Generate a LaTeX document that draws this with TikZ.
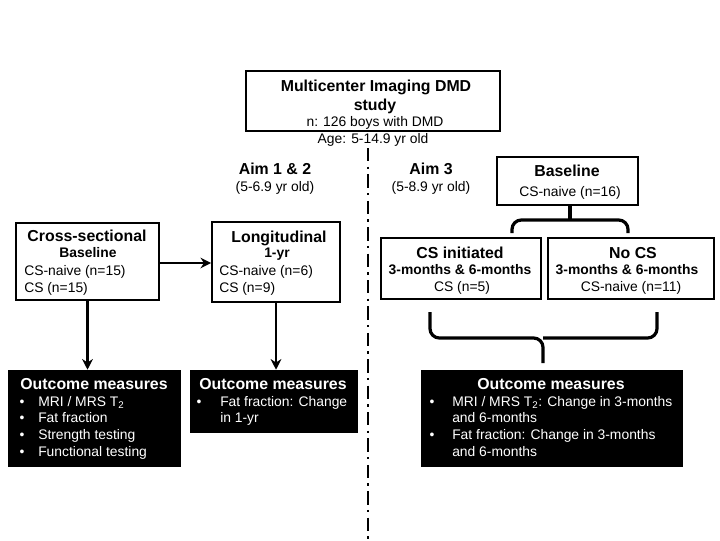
\documentclass[tikz,border=0pt]{standalone}
\usepackage{fontspec}
\setmainfont{Liberation Sans}
\usetikzlibrary{arrows.meta,fit}
\begin{document}
\begin{tikzpicture}[x=0.75pt,y=-0.75pt,
 box/.style={draw, line width=1.3pt, inner sep=0pt},
 dark/.style={fill=black, draw=black, inner sep=0pt},
 hd/.style={font=\fontsize{11.9}{13}\bfseries\selectfont, inner sep=0pt, text height=8.6pt, text depth=2.4pt},
 sb/.style={font=\fontsize{10.4}{12}\bfseries\selectfont, inner sep=0pt, text height=7.5pt, text depth=2.2pt},
 txt/.style={font=\fontsize{10.4}{12.5}\selectfont, inner sep=0pt, text height=7.5pt, text depth=2.2pt},
 wtxt/.style={txt, text=white},
 whd/.style={hd, text=white},
 arr/.style={line width=1.6pt, -{Stealth[length=8pt,width=8pt]}},
 brace/.style={line width=2.4pt, rounded corners=7pt},
 divider/.style={line width=2.2pt, dash pattern=on 10pt off 4pt on 1.8pt off 4pt}]
\useasboundingbox (0,0) rectangle (720,540);

% divider
\draw[divider] (368,148) -- (368,540);

% top box
\node[box, fit={(246,71) (500,131)}] (top) {};
\node[hd] (t1) at (376,87) {Multicenter Imaging DMD};
\node[hd] (t2) at (375,106) {study};
\node[txt] (t3) at (375,123) {n: 126 boys with DMD};
\node[txt] (t4) at (373,140) {Age: 5-14.9 yr old};

% aims
\node[hd] (a1) at (275,170) {Aim 1 \& 2};
\node[txt] (a1s) at (275,188) {(5-6.9 yr old)};
\node[hd] (a3) at (431,170) {Aim 3};
\node[txt] (a3s) at (431,188) {(5-8.9 yr old)};

% baseline (aim 3)
\node[box, fit={(497,157) (638,205)}] (base) {};
\node[hd] (b1) at (567,172) {Baseline};
\node[txt] (b2) at (570,193) {CS-naive (n=16)};

% CS initiated
\node[box, fit={(381,238) (541,299)}] (csi) {};
\node[hd] (c1) at (460,254) {CS initiated};
\node[sb] (c2) at (460,271) {3-months \& 6-months};
\node[txt] (c3) at (462,288) {CS (n=5)};

% No CS
\node[box, fit={(548,238) (714,299)}] (nocs) {};
\node[hd] (n1) at (633,254) {No CS};
\node[sb] (n2) at (627,271) {3-months \& 6-months};
\node[txt] (n3) at (631,288) {CS-naive (n=11)};

% cross-sectional
\node[box, fit={(16,223) (159,300)}] (cross) {};
\node[hd] (x1) at (87,237) {Cross-sectional};
\node[sb] (x2) at (88,254) {Baseline};
\node[txt, anchor=west] (x3) at (24,272) {CS-naive (n=15)};
\node[txt, anchor=west] (x4) at (24,289) {CS (n=15)};

% longitudinal
\node[box, fit={(212,222) (340,302)}] (long) {};
\node[hd] (l1) at (279,238) {Longitudinal};
\node[sb] (l2) at (277,254) {1-yr};
\node[txt, anchor=west] (l3) at (219,272) {CS-naive (n=6)};
\node[txt, anchor=west] (l4) at (219,289) {CS (n=9)};

% outcome boxes
\node[dark, fit={(8,370) (180,466)}] (o1) {};
\node[whd] (o1h) at (94,385) {Outcome measures};
\node[wtxt] (o1b1) at (22,403) {•};
\node[wtxt, anchor=west] (o1l1) at (38,403) {MRI / MRS T\textsubscript{2}};
\node[wtxt] (o1b2) at (22,419) {•};
\node[wtxt, anchor=west] (o1l2) at (38,419) {Fat fraction};
\node[wtxt] (o1b3) at (22,436) {•};
\node[wtxt, anchor=west] (o1l3) at (38,436) {Strength testing};
\node[wtxt] (o1b4) at (22,453) {•};
\node[wtxt, anchor=west] (o1l4) at (38,453) {Functional testing};

\node[dark, fit={(190,370) (357,432)}] (o2) {};
\node[whd] (o2h) at (273,385) {Outcome measures};
\node[wtxt] (o2b1) at (199,403) {•};
\node[wtxt, anchor=west] (o2l1) at (220,403) {Fat fraction: Change};
\node[wtxt, anchor=west] (o2l2) at (220,419) {in 1-yr};

\node[dark, fit={(421,370) (682,466)}] (o3) {};
\node[whd] (o3h) at (551,385) {Outcome measures};
\node[wtxt] (o3b1) at (432,403) {•};
\node[wtxt, anchor=west] (o3l1) at (452,403) {MRI / MRS T\textsubscript{2}: Change in 3-months};
\node[wtxt, anchor=west] (o3l2) at (452,419) {and 6-months};
\node[wtxt] (o3b2) at (432,436) {•};
\node[wtxt, anchor=west] (o3l3) at (452,436) {Fat fraction: Change in 3-months};
\node[wtxt, anchor=west] (o3l4) at (452,453) {and 6-months};

% arrows
\draw[arr] (cross.east |- 0,263) -- (long.west |- 0,263);
\draw[arr] (cross.south) -- (cross.south |- o1.north);
\draw[arr] (long.south) -- (long.south |- o2.north);

% top bracket
\coordinate (tbs) at (570,205);
\coordinate (tbm) at (570,220);
\coordinate (tbl) at (512,233);
\coordinate (tbr) at (628,233);
\draw[line width=2.4pt] (tbs) -- (tbm);
\draw[brace] (tbl) -- (512,220) -- (628,220) -- (tbr);

% bottom brace
\coordinate (bbl) at (430,312);
\coordinate (bbr) at (657,312);
\coordinate (bbm) at (543,338);
\coordinate (bbs) at (543,363);
\draw[brace] (bbl) -- (430,338) -- (543,338) -- (bbs);
\draw[brace] (bbr) -- (657,338) -- (543,338);
\end{tikzpicture}
\end{document}
